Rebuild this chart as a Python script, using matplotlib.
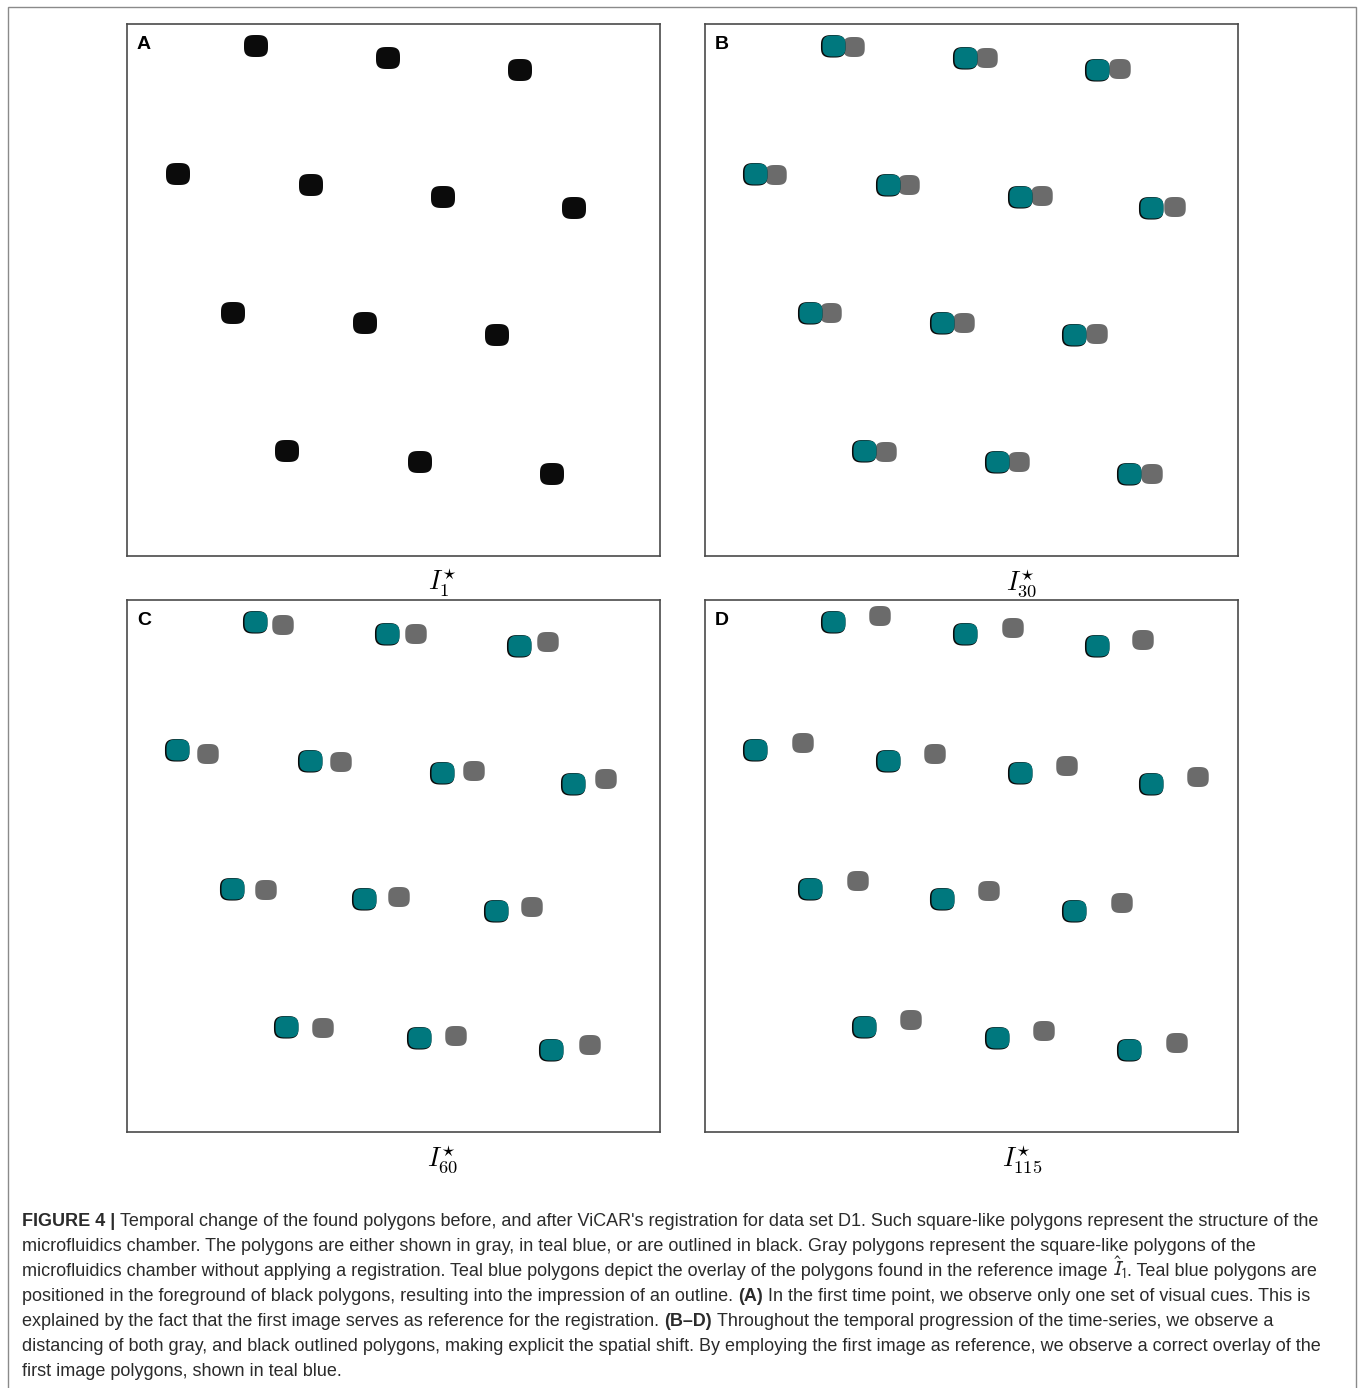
import matplotlib
matplotlib.use('Agg')
import matplotlib.pyplot as plt
import numpy as np
from matplotlib.patches import Rectangle

plt.rcParams['mathtext.fontset'] = 'cm'

W, H = 1358, 1388

# blob centres of the reference image (pixels inside a panel, y downward)
ref_x = [129, 261, 393, 51, 184, 316, 447, 106, 238, 370, 160, 293, 425]
ref_y = [22, 34, 46, 150, 161, 173, 184, 289, 299, 311, 427, 438, 450]

# unregistered (gray) polygons per time point
gray_b_x = [149, 282, 415, 71, 204, 337, 470, 126, 259, 392, 181, 314, 447]
gray_b_y = [23, 34, 45, 151, 161, 172, 183, 289, 299, 310, 428, 438, 450]
gray_c_x = [156, 289, 421, 81, 214, 347, 479, 139, 272, 405, 196, 329, 463]
gray_c_y = [25, 34, 42, 154, 162, 171, 179, 290, 297, 307, 428, 436, 445]
gray_d_x = [175, 308, 438, 98, 230, 362, 493, 153, 284, 417, 206, 339, 472]
gray_d_y = [16, 28, 40, 143, 154, 166, 177, 281, 291, 303, 420, 431, 443]

labels = ['A', 'B', 'C', 'D']
titles = [r'$I^{\star}_{1}$', r'$I^{\star}_{30}$', r'$I^{\star}_{60}$', r'$I^{\star}_{115}$']

TEAL = '#00787e'
GRAY = '#6b6b6b'
BLACK = '#0b0b0b'
TXT = '#2b2b2b'

fig = plt.figure(figsize=(W / 100, H / 100), dpi=100)


def px_axes(left, top, width, height):
    return fig.add_axes([left / W, 1 - (top + height) / H, width / W, height / H])


def blob(cx, cy, w, h, n=3.2, k=72):
    # rounded square outline
    t = np.linspace(0, 2 * np.pi, k, endpoint=False)
    c, s = np.cos(t), np.sin(t)
    x = np.sign(c) * np.abs(c) ** (2 / n) * w / 2
    y = np.sign(s) * np.abs(s) ** (2 / n) * h / 2
    return cx + x, cy + y


def draw_panel(ax, label, gx=None, gy=None):
    ax.set_xlim(0, 533)
    ax.set_ylim(532, 0)
    ax.set_xticks([])
    ax.set_yticks([])
    for sp in ax.spines.values():
        sp.set_color('#4a4a4a')
        sp.set_linewidth(1.2)
    ax.text(10, 12, label, fontsize=14, fontweight='bold', family='Liberation Sans',
            va='top', ha='left', color='black')
    if gx is None:
        for x, y in zip(ref_x, ref_y):
            bx, by = blob(x, y, 24, 22)
            ax.fill(bx, by, color=BLACK, lw=0, zorder=3)
        return
    for x, y in zip(gx, gy):
        bx, by = blob(x, y, 21.5, 20)
        ax.fill(bx, by, color=GRAY, lw=0, zorder=1)
    for x, y in zip(ref_x, ref_y):
        bx, by = blob(x - 0.8, y + 0.3, 24.5, 22.5)
        ax.fill(bx, by, color=BLACK, lw=0, zorder=2)
        bx, by = blob(x, y, 23, 21)
        ax.fill(bx, by, color=TEAL, lw=0, zorder=3)


boxes = [(127, 24), (705, 24), (127, 600), (705, 600)]
grays = [(None, None), (gray_b_x, gray_b_y), (gray_c_x, gray_c_y), (gray_d_x, gray_d_y)]
title_pos = [(443, 583), (1022, 583), (443, 1159), (1022, 1159)]

for (l, t), lab, (gx, gy), ttl, (tx, ty) in zip(boxes, labels, grays, titles, title_pos):
    ax = px_axes(l, t, 533, 532)
    draw_panel(ax, lab, gx, gy)
    fig.text(tx / W, 1 - ty / H, ttl, fontsize=19, ha='center', va='center', color='black')

# outer frame of the figure
fig.patches.append(Rectangle((8 / W, -0.05), 1348 / W, 1.05 - 7 / H, transform=fig.transFigure,
                             fill=False, edgecolor='#8a8a8a', lw=1.0, figure=fig))

# caption
cap_font = ['Liberation Sans Narrow', 'Liberation Sans']
caption = [
    [('FIGURE 4 |', 'bold'), (" Temporal change of the found polygons before, and after ViCAR's registration "
                             "for data set D1. Such square-like polygons represent the structure of the", 'normal')],
    [('microfluidics chamber. The polygons are either shown in gray, in teal blue, or are outlined in black. '
      'Gray polygons represent the square-like polygons of the', 'normal')],
    [('microfluidics chamber without applying a registration. Teal blue polygons depict the overlay of the '
      'polygons found in the reference image ', 'normal'), (r'$\hat{I}_1$', 'math'),
     ('. Teal blue polygons are', 'normal')],
    [('positioned in the foreground of black polygons, resulting into the impression of an outline. ', 'normal'),
     ('(A)', 'bold'), (' In the first time point, we observe only one set of visual cues. This is', 'normal')],
    [('explained by the fact that the first image serves as reference for the registration. ', 'normal'),
     ('(B\u2013D)', 'bold'), (' Throughout the temporal progression of the time-series, we observe a', 'normal')],
    [('distancing of both gray, and black outlined polygons, making explicit the spatial shift. By employing '
      'the first image as reference, we observe a correct overlay of the', 'normal')],
    [('first image polygons, shown in teal blue.', 'normal')],
]

renderer = fig.canvas.get_renderer()


def make_text(x, y, s, kind, size):
    if kind == 'math':
        return fig.text(x / W, 1 - y / H, s, fontsize=size * 1.1, va='baseline', ha='left', color=TXT,
                        math_fontfamily='stixsans')
    return fig.text(x / W, 1 - y / H, s, fontsize=size, fontweight=kind, family=cap_font,
                    va='baseline', ha='left', color=TXT)


def space_width(kind, size):
    a = make_text(0, -100, 'a a', kind, size)
    b = make_text(0, -100, 'aa', kind, size)
    w = a.get_window_extent(renderer).width - b.get_window_extent(renderer).width
    a.remove()
    b.remove()
    return w


def draw_line(x, y, runs, size, keep=True):
    made = []
    for s, kind in runs:
        sp = space_width('normal' if kind == 'math' else kind, size)
        lead = len(s) - len(s.lstrip(' '))
        trail = len(s) - len(s.rstrip(' '))
        x += lead * sp
        t = make_text(x, y, s.strip(' '), kind, size)
        x += t.get_window_extent(renderer).width + trail * sp
        made.append(t)
    if not keep:
        for t in made:
            t.remove()
    return x


base = 12.0
end = draw_line(22, -200, caption[0], base, keep=False)
size = base * (1323 - 22) / (end - 22)

for i, runs in enumerate(caption):
    draw_line(22, 1226 + 25 * i, runs, size)

fig.savefig('out.png', dpi=100, facecolor='white')
